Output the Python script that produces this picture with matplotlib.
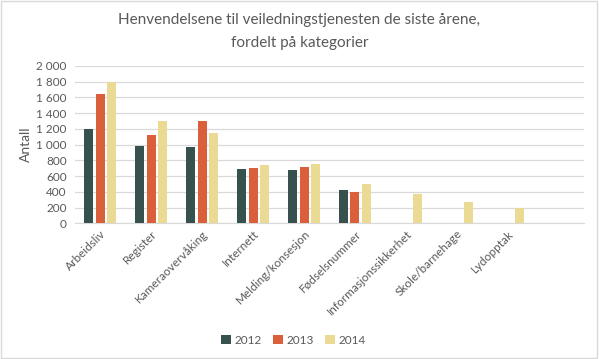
import matplotlib
matplotlib.use('Agg')
import numpy as np
import matplotlib.pyplot as plt
from matplotlib.patches import Rectangle
from matplotlib.ticker import FuncFormatter

categories = ["Arbeidsliv", "Register", "Kameraovervåking", "Internett",
              "Melding/konsesjon", "Fødselsnummer", "Informasjonssikkerhet",
              "Skole/barnehage", "Lydopptak"]
years = ["2012", "2013", "2014"]
v2012 = [1200, 980, 970, 690, 680, 420, 0, 0, 0]
v2013 = [1640, 1120, 1300, 700, 720, 400, 0, 0, 0]
v2014 = [1800, 1300, 1150, 740, 760, 500, 370, 270, 200]
colors = ["#37524E", "#D9603B", "#EBDA94"]

plt.rcParams['font.family'] = ['Lato', 'DejaVu Sans']
grey = "#595959"

fig = plt.figure(figsize=(5.99, 3.59), dpi=100)
ax = fig.add_axes([75/599, 1-223.3/359, 509/599, 157.3/359])

x = np.arange(len(categories))
w = 0.177
off = 0.226
for i, (vals, yr) in enumerate(zip([v2012, v2013, v2014], years)):
    ax.bar(x + (i-1)*off, vals, w, color=colors[i], label=yr, zorder=3)

ax.set_xlim(-0.5, 9.5)
ax.set_ylim(0, 2000)
ax.set_yticks(np.arange(0, 2001, 200))
ax.yaxis.set_major_formatter(FuncFormatter(lambda v, p: "{:,}".format(int(v)).replace(",", " ")))
ax.grid(axis='y', color="#D9D9D9", linewidth=0.9, zorder=0)
for s in ['top', 'right', 'left']:
    ax.spines[s].set_visible(False)
ax.spines['bottom'].set_color("#D9D9D9")
ax.tick_params(axis='both', length=0, colors=grey, labelsize=8.5)
ax.tick_params(axis='y', pad=6)
ax.set_xticks(x)
ax.set_xticklabels(categories, rotation=45, ha='right', rotation_mode='anchor')
ax.set_ylabel("Antall", color=grey, fontsize=10)
ax.yaxis.set_label_coords(-0.085, 0.5)

fig.text(0.5, 1-20/359, "Henvendelsene til veiledningstjenesten de siste årene,",
         ha='center', va='center', color=grey, fontsize=11)
fig.text(0.5, 1-43/359, "fordelt på kategorier",
         ha='center', va='center', color=grey, fontsize=11)

fig.legend(loc='center', bbox_to_anchor=(0.49, 1-340/359), ncol=3, frameon=False,
           fontsize=8.5, handlelength=0.8, handleheight=0.8, handletextpad=0.3,
           columnspacing=1.0, labelcolor=grey)

fig.patches.append(Rectangle((0.002, 0.003), 0.995, 0.994, transform=fig.transFigure,
                             fill=False, edgecolor="#D9D9D9", linewidth=1))

plt.savefig("out.png", dpi=100)
